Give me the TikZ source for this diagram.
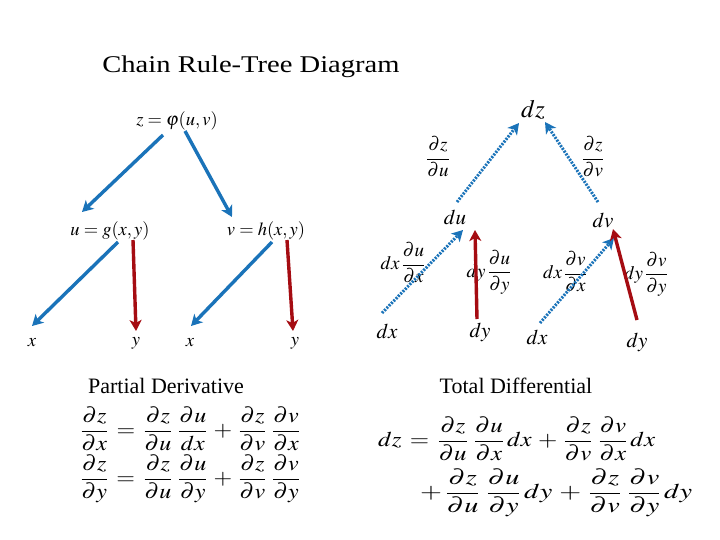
\documentclass[tikz,border=0pt]{standalone}
\usepackage{mathptmx}
\usepackage[no-math]{fontspec}
\setmainfont{Liberation Serif}
\usetikzlibrary{arrows.meta}
\definecolor{tblue}{RGB}{26,115,185}
\definecolor{tred}{RGB}{165,12,18}
\newcommand{\wfit}[2]{\resizebox{#1}{\height}{#2}}
\begin{document}
\begin{tikzpicture}[x=1pt,y=-1pt,
  lbl/.style={inner sep=0pt, font=\fontsize{18.5}{20}\selectfont},
  rlbl/.style={inner sep=0pt, font=\fontsize{21}{24}\selectfont},
  frl/.style={inner sep=0pt, font=\fontsize{19}{22}\selectfont},
  eqn/.style={inner sep=0pt, anchor=west, font=\fontsize{21}{24}\selectfont},
  head/.style={inner sep=0pt, font=\fontsize{22}{26}\selectfont},
  tip/.style={-{Stealth[length=11pt,width=12pt,inset=3pt]}},
  bsolid/.style={tip, tblue, line width=3.4pt},
  rsolid/.style={tip, tred, line width=3.4pt},
  bdot/.style={tip, tblue, line width=3pt, dash pattern=on 2pt off 1.3pt}]
\useasboundingbox (0,0) rectangle (720,540);
\fill[white] (0,0) rectangle (720,540);

% title
\node[inner sep=0pt] (title) at (251,67) {\scalebox{1.19}[1]{\fontsize{24}{28}\selectfont Chain Rule-Tree Diagram}};

% ---- left tree ----
\node[lbl] (z) at (177,121) {$z=\varphi(u,v)$};
\node[lbl] (u) at (110,231) {$u=g(x,y)$};
\node[lbl] (v) at (266,231) {$v=h(x,y)$};
\node[lbl] (x1) at (32,343) {$x$};
\node[lbl] (y1) at (136,343) {$y$};
\node[lbl] (x2) at (190,343) {$x$};
\node[lbl] (y2) at (295,343) {$y$};

\coordinate (zL) at (163,135); \coordinate (uT) at (82,212);
\coordinate (zR) at (185,131); \coordinate (vT) at (232,217);
\coordinate (uL) at (118,242); \coordinate (x1T) at (32,326);
\coordinate (uR) at (133,240); \coordinate (y1T) at (136,331);
\coordinate (vL) at (272,242); \coordinate (x2T) at (191,326);
\coordinate (vR) at (287,240); \coordinate (y2T) at (293,331);

\draw[bsolid] (zL) -- (uT);
\draw[bsolid] (zR) -- (vT);
\draw[bsolid] (uL) -- (x1T);
\draw[rsolid] (uR) -- (y1T);
\draw[bsolid] (vL) -- (x2T);
\draw[rsolid] (vR) -- (y2T);

% ---- right tree ----
\node[inner sep=0pt, font=\fontsize{25}{28}\selectfont] (dz) at (533,110) {$dz$};
\node[frl] (fzu) at (438,157) {$\displaystyle\frac{\partial z}{\partial u}$};
\node[frl] (fzv) at (593,157) {$\displaystyle\frac{\partial z}{\partial v}$};
\node[rlbl] (du) at (455,217) {$du$};
\node[rlbl] (dv) at (603,220) {$dv$};
\node[frl] (lux) at (403,263) {$\displaystyle dx\,\frac{\partial u}{\partial x}$};
\node[frl] (luy) at (489,272) {$\displaystyle dy\,\frac{\partial u}{\partial y}$};
\node[frl] (lvx) at (565,272) {$\displaystyle dx\,\frac{\partial v}{\partial x}$};
\node[frl] (lvy) at (646,274) {$\displaystyle dy\,\frac{\partial v}{\partial y}$};
\node[rlbl] (dx1) at (387,331) {$dx$};
\node[rlbl] (dy1) at (480,332) {$dy$};
\node[rlbl] (dx2) at (537,337) {$dx$};
\node[rlbl] (dy2) at (637,342) {$dy$};

\coordinate (duT) at (457,202); \coordinate (dzL) at (519,123);
\coordinate (dvT) at (598,202); \coordinate (dzR) at (545,122);
\coordinate (dx1T) at (382,313); \coordinate (duL) at (463,230);
\coordinate (dy1T) at (477,319); \coordinate (duR) at (475,230);
\coordinate (dx2T) at (540,323); \coordinate (dvL) at (614,238);
\coordinate (dy2T) at (637,320); \coordinate (dvR) at (613,229);

\draw[bdot] (duT) -- (dzL);
\draw[bdot] (dvT) -- (dzR);
\draw[bdot] (dx1T) -- (duL);
\draw[rsolid] (dy1T) -- (duR);
\draw[bdot] (dx2T) -- (dvL);
\draw[rsolid] (dy2T) -- (dvR);

% ---- bottom formulas ----
\node[head] (hpd) at (166,386) {Partial Derivative};
\node[head] (htd) at (516,386) {Total Differential};

\node[eqn] (e1) at (80,429) {\wfit{220pt}{$\displaystyle \frac{\partial z}{\partial x}\,=\,\frac{\partial z}{\partial u}\;\frac{\partial u}{dx}\,+\,\frac{\partial z}{\partial v}\;\frac{\partial v}{\partial x}$}};
\node[eqn] (e2) at (80,479) {\wfit{220pt}{$\displaystyle \frac{\partial z}{\partial y}\,=\,\frac{\partial z}{\partial u}\;\frac{\partial u}{\partial y}\,+\,\frac{\partial z}{\partial v}\;\frac{\partial v}{\partial y}$}};
\node[eqn] (e3) at (378,439) {\wfit{277pt}{$\displaystyle dz\,=\,\frac{\partial z}{\partial u}\;\frac{\partial u}{\partial x}\,dx\,+\,\frac{\partial z}{\partial v}\;\frac{\partial v}{\partial x}\,dx$}};
\node[eqn] (e4) at (420,493) {\wfit{272pt}{$\displaystyle +\,\frac{\partial z}{\partial u}\;\frac{\partial u}{\partial y}\,dy\,+\,\frac{\partial z}{\partial v}\;\frac{\partial v}{\partial y}\,dy$}};
\end{tikzpicture}
\end{document}
